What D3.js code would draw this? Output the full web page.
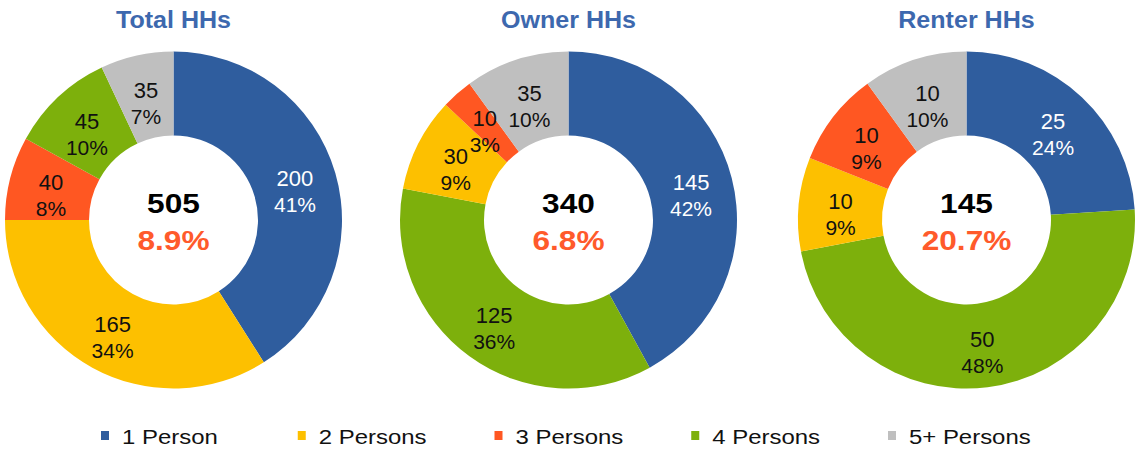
<!DOCTYPE html>
<html>
<head>
<meta charset="utf-8">
<script src="https://cdn.jsdelivr.net/npm/d3@7"></script>
<style>
  body { margin: 0; background: #fff; }
  text { font-family: "Liberation Sans", Arial, sans-serif; }
</style>
</head>
<body>
<div id="chart"></div>
<script>
var svgWidth = 1138;
var svgHeight = 449;

// data
var categories = ["1 Person", "2 Persons", "3 Persons", "4 Persons", "5+ Persons"];
var titles = ["Total HHs", "Owner HHs", "Renter HHs"];
var totals = [505, 340, 145];
var rates = ["8.9%", "6.8%", "20.7%"];

// counts and shares, in category order
var totalCounts = [200, 165, 40, 45, 35];
var totalShares = [41, 34, 8, 10, 7];
var ownerCounts = [145, 30, 10, 125, 35];
var ownerShares = [42, 9, 3, 36, 10];
var renterCounts = [25, 10, 10, 50, 10];
var renterShares = [24, 9, 9, 48, 10];

// clockwise slice order (category index) from 12 o'clock
var totalOrder = [0, 1, 2, 3, 4];
var ownerOrder = [0, 3, 1, 2, 4];
var renterOrder = [0, 3, 1, 2, 4];

var colors = ["#2f5d9e", "#fdc000", "#ff5722", "#7db00c", "#bfbfbf"];

var svg = d3.select("#chart")
  .append("svg")
  .attr("width", svgWidth)
  .attr("height", svgHeight);

var outerR = 168.5;
var innerR = 84.5;
var centersX = [173.5, 568.5, 966.5];
var centerY = 220;

var x = d3.scalePoint().domain(titles).range([centersX[0], centersX[2]]);

var color = d3.scaleOrdinal().domain(categories).range(colors);

var arc = d3.arc().innerRadius(innerR).outerRadius(outerR);
var pie = d3.pie().sort(null).value(d => d.share);

var allCounts = [totalCounts, ownerCounts, renterCounts];
var allShares = [totalShares, ownerShares, renterShares];
var allOrders = [totalOrder, ownerOrder, renterOrder];

function stretchText(g, tx, ty, sx) {
  return g.append("text")
    .attr("transform", `translate(${tx},${ty}) scale(${sx},1)`);
}

titles.forEach(function(title, i) {
  var cx = i === 1 ? centersX[1] : x(title);
  var data = allOrders[i].map(function(k) {
    return { cat: categories[k], count: allCounts[i][k], share: allShares[i][k] };
  });

  var g = svg.append("g")
    .attr("transform", `translate(${cx}, ${centerY})`);

  var arcs = pie(data);

  g.selectAll("path")
    .data(arcs)
    .enter()
    .append("path")
    .attr("d", arc)
    .attr("fill", d => color(d.data.cat));

  arcs.forEach(function(d) {
    var c = arc.centroid(d);
    var fill = d.data.cat === "1 Person" ? "#ffffff" : "#111111";
    stretchText(g, c[0], c[1] + 1, 1)
      .attr("text-anchor", "middle")
      .attr("font-size", 22)
      .attr("fill", fill)
      .text(d.data.count);
    stretchText(g, c[0], c[1] + 27, 1)
      .attr("text-anchor", "middle")
      .attr("font-size", 21)
      .attr("fill", fill)
      .text(d.data.share + "%");
  });

  // center
  stretchText(g, 0, -7, 1.13)
    .attr("text-anchor", "middle")
    .attr("font-size", 28)
    .attr("font-weight", "bold")
    .attr("fill", "#000")
    .text(totals[i]);
  stretchText(g, 0, 30, 1.13)
    .attr("text-anchor", "middle")
    .attr("font-size", 28)
    .attr("font-weight", "bold")
    .attr("fill", "#ff5a2b")
    .text(rates[i]);

  // title
  stretchText(svg, cx, 28, 1.09)
    .attr("text-anchor", "middle")
    .attr("font-size", 23)
    .attr("font-weight", "bold")
    .attr("fill", "#3d68ae")
    .text(title);
});

// legend
var legendX = d3.scalePoint().domain(categories).range([101, 888]);

var legend = svg.selectAll(".legend")
  .data(categories)
  .enter()
  .append("g")
  .attr("class", "legend")
  .attr("transform", d => `translate(${legendX(d)}, 0)`);

legend.append("rect")
  .attr("x", 0)
  .attr("y", 431)
  .attr("width", 8)
  .attr("height", 9)
  .attr("fill", d => color(d));

legend.append("text")
  .attr("transform", "translate(21,444) scale(1.14,1)")
  .attr("font-size", 21)
  .attr("fill", "#111")
  .text(d => d);
</script>
</body>
</html>
